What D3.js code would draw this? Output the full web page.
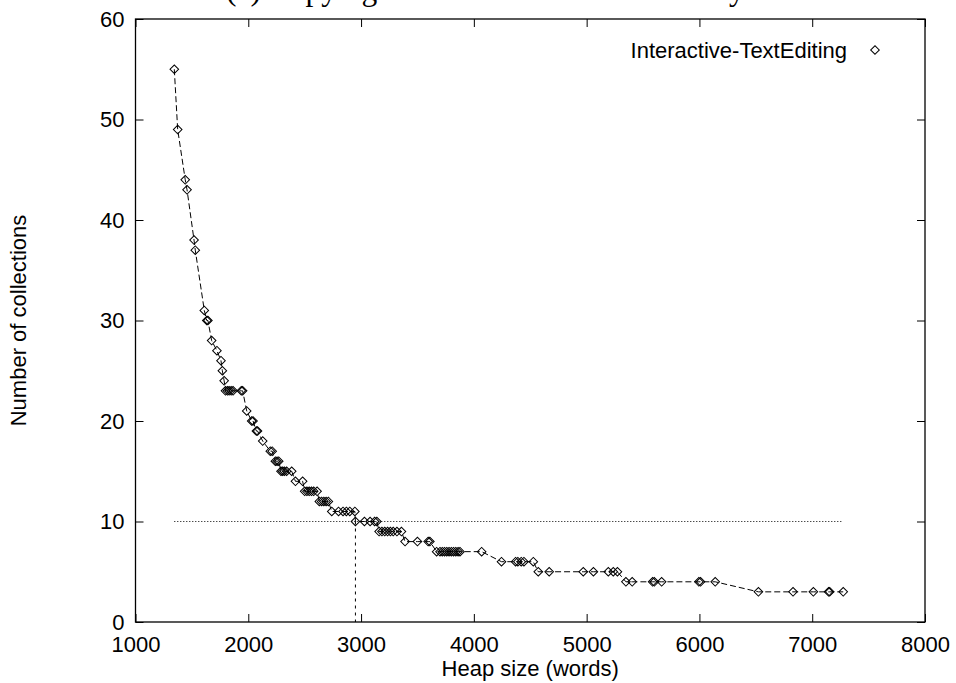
<!DOCTYPE html>
<html>
<head>
<meta charset="utf-8">
<script src="https://cdn.jsdelivr.net/npm/d3@7"></script>
<style>
  html, body { margin: 0; padding: 0; background: #fff; }
  svg { display: block; font-family: "Liberation Sans", Arial, sans-serif; }
</style>
</head>
<body>
<svg id="chart"></svg>
<script>
// heap size (words) vs number of collections
const HEAP = [1344, 1374, 1441, 1457, 1519, 1530, 1610, 1632, 1642, 1675,
  1722, 1758, 1770, 1786, 1798, 1815, 1830, 1848, 1865, 1938,
  1950, 1986, 2030, 2042, 2072, 2082, 2128, 2195, 2212, 2240,
  2255, 2270, 2290, 2305, 2320, 2340, 2385, 2418, 2482, 2500,
  2520, 2540, 2560, 2580, 2610, 2630, 2650, 2670, 2690, 2710,
  2740, 2800, 2840, 2870, 2900, 2945, 2950, 3030, 3080, 3120,
  3140, 3160, 3185, 3210, 3235, 3260, 3285, 3318, 3358, 3390,
  3500, 3595, 3610, 3670, 3700, 3720, 3740, 3760, 3780, 3800,
  3820, 3840, 3860, 3877, 4069, 4245, 4370, 4390, 4420, 4444,
  4527, 4571, 4668, 4970, 5060, 5192, 5236, 5273, 5348, 5404,
  5585, 5600, 5665, 5995, 6010, 6140, 6523, 6830, 7010, 7145,
  7155, 7275];
const COLLECTIONS = [55, 49, 44, 43, 38, 37, 31, 30, 30, 28,
  27, 26, 25, 24, 23, 23, 23, 23, 23, 23,
  23, 21, 20, 20, 19, 19, 18, 17, 17, 16,
  16, 16, 15, 15, 15, 15, 15, 14, 14, 13,
  13, 13, 13, 13, 13, 12, 12, 12, 12, 12,
  11, 11, 11, 11, 11, 11, 10, 10, 10, 10,
  10, 9, 9, 9, 9, 9, 9, 9, 9, 8,
  8, 8, 8, 7, 7, 7, 7, 7, 7, 7,
  7, 7, 7, 7, 7, 6, 6, 6, 6, 6,
  6, 5, 5, 5, 5, 5, 5, 5, 4, 4,
  4, 4, 4, 4, 4, 4, 3, 3, 3, 3,
  3, 3];

const X_TICKS = [1000, 2000, 3000, 4000, 5000, 6000, 7000, 8000];
const Y_TICKS = [0, 10, 20, 30, 40, 50, 60];
const TARGET = 10;        // horizontal threshold
const TARGET_HEAP = 2950; // heap size where the curve reaches it

const SERIES_NAME = "Interactive-TextEditing";
const TITLE = "(c) Copying collection counts in memory";

const W = 956, H = 683;
const L = 135.5, R = 925, T = 19, B = 622;

const svg = d3.select("#chart").attr("width", W).attr("height", H);

const x = d3.scaleLinear().domain([1000, 8000]).range([L, R]);
const y = d3.scaleLinear().domain([0, 60]).range([B, T]);

const data = HEAP.map((h, i) => ({ h: h, n: COLLECTIONS[i] }));

// title is cut by the top edge, only descenders show
svg.append("text")
  .attr("x", 226).attr("y", -0.5)
  .style("font-family", "'Liberation Serif', 'Times New Roman', serif")
  .style("font-size", "31.5px")
  .text(TITLE);

// axes, ticks pointing inwards on all four sides
function styleAxis(g) {
  g.select(".domain").remove();
  g.selectAll("line").attr("stroke", "#000").attr("stroke-width", 1);
  g.selectAll("text").style("font-size", "22px").attr("fill", "#000")
    .style("font-family", "'Liberation Sans', Arial, sans-serif");
}

const fmt = d3.format("d");

svg.append("g").attr("transform", "translate(0," + B + ")")
  .call(d3.axisBottom(x).tickValues(X_TICKS).tickFormat(fmt).tickSizeInner(-8).tickSizeOuter(0).tickPadding(14))
  .call(styleAxis);
svg.append("g").attr("transform", "translate(0," + T + ")")
  .call(d3.axisTop(x).tickValues(X_TICKS).tickSizeInner(-8).tickSizeOuter(0).tickFormat(""))
  .call(styleAxis);
svg.append("g").attr("transform", "translate(" + L + ",0)")
  .call(d3.axisLeft(y).tickValues(Y_TICKS).tickFormat(fmt).tickSizeInner(-8).tickSizeOuter(0).tickPadding(11))
  .call(styleAxis);
svg.append("g").attr("transform", "translate(" + R + ",0)")
  .call(d3.axisRight(y).tickValues(Y_TICKS).tickSizeInner(-8).tickSizeOuter(0).tickFormat(""))
  .call(styleAxis);

svg.append("rect")
  .attr("x", L).attr("y", T).attr("width", R - L).attr("height", B - T)
  .attr("fill", "none").attr("stroke", "#000").attr("stroke-width", 1.3);

// threshold lines
const ext = d3.extent(HEAP);
svg.append("line")
  .attr("x1", x(ext[0])).attr("x2", x(ext[1]))
  .attr("y1", y(TARGET)).attr("y2", y(TARGET))
  .attr("stroke", "#000").attr("stroke-width", 1).attr("stroke-dasharray", "1,2");
svg.append("line")
  .attr("x1", x(TARGET_HEAP)).attr("x2", x(TARGET_HEAP))
  .attr("y1", y(TARGET)).attr("y2", y(0))
  .attr("stroke", "#000").attr("stroke-width", 1).attr("stroke-dasharray", "3,4");

// dashed connecting line
const line = d3.line().x(d => x(d.h)).y(d => y(d.n));
svg.append("path")
  .datum(data)
  .attr("d", line)
  .attr("fill", "none")
  .attr("stroke", "#000")
  .attr("stroke-width", 1)
  .attr("stroke-dasharray", "6,3");

// diamonds
const diamond = d3.symbol().type(d3.symbolSquare).size(37);
svg.append("g").selectAll("path")
  .data(data)
  .join("path")
  .attr("d", diamond)
  .attr("transform", d => "translate(" + x(d.h) + "," + y(d.n) + ") rotate(45)")
  .attr("fill", "none")
  .attr("stroke", "#000")
  .attr("stroke-width", 1);

// legend
svg.append("text")
  .attr("x", 847).attr("y", 58)
  .attr("text-anchor", "end")
  .style("font-size", "22px")
  .text(SERIES_NAME);
svg.append("path")
  .attr("d", diamond)
  .attr("transform", "translate(875,50) rotate(45)")
  .attr("fill", "none").attr("stroke", "#000").attr("stroke-width", 1);

// axis titles
svg.append("text")
  .attr("x", (L + R) / 2).attr("y", 676)
  .attr("text-anchor", "middle")
  .style("font-size", "22px")
  .text("Heap size (words)");
svg.append("text")
  .attr("transform", "translate(26," + ((T + B) / 2) + ") rotate(-90)")
  .attr("text-anchor", "middle")
  .style("font-size", "22px")
  .text("Number of collections");
</script>
</body>
</html>
